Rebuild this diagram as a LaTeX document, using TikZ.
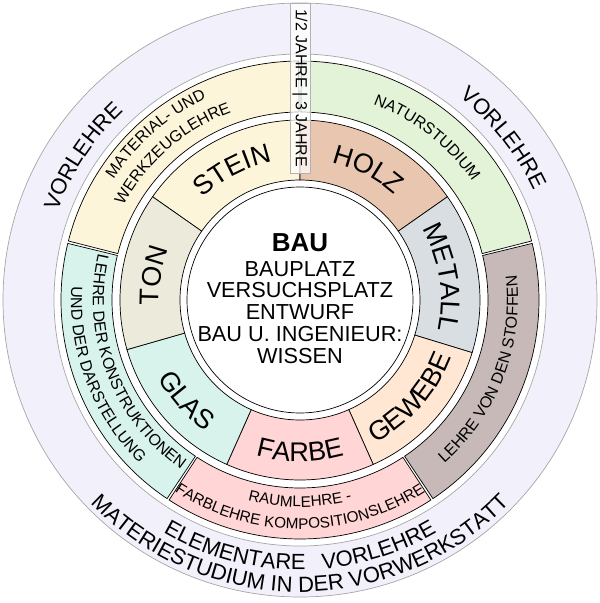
\documentclass[tikz,border=0pt]{standalone}
\usepackage{fontspec}
\setmainfont{Liberation Sans}
\usepackage{xcolor}
\usepackage{tikz}
\usetikzlibrary{decorations.text}

\definecolor{vorlehre}{HTML}{F2F0FA}
\definecolor{stein}{HTML}{FDF5DA}
\definecolor{natur}{HTML}{E3F3D8}
\definecolor{holz}{HTML}{E9C6B0}
\definecolor{metall}{HTML}{D9DEE2}
\definecolor{stoffe}{HTML}{C7B9B8}
\definecolor{gewebe}{HTML}{FFE7D4}
\definecolor{farbe}{HTML}{FFD5D5}
\definecolor{glas}{HTML}{D8F2EC}
\definecolor{ton}{HTML}{ECEADA}

\newcommand{\matfont}{\fontsize{27}{27}\selectfont}
\newcommand{\lehrefont}{\fontsize{16}{16}\selectfont}
\newcommand{\raumfont}{\fontsize{15.3}{15.3}\selectfont}
\newcommand{\vorfont}{\fontsize{22}{22}\selectfont}

\begin{document}
\begin{tikzpicture}[
    x=1pt, y=1pt,
    seg/.style={draw=black, line width=0.7pt},
    ring/.style={draw=black!35, line width=0.7pt},
    strip/.style={draw=black!30, fill=white, fill opacity=0.7, text opacity=1, minimum width=170pt, minimum height=20pt, inner sep=0pt, font=\fontsize{16}{16}\selectfont},
    arctext/.style={decorate, decoration={text along path, text align=center, text={#1}}}
]
    \useasboundingbox (-300,-303) rectangle (300,300);

    \filldraw[ring, fill=vorlehre] (0,0) circle (297);
    \filldraw[ring, fill=white] (0,0) circle (246);

    \filldraw[seg, fill=stein] (165.7:188) arc[start angle=165.7, end angle=90.3, radius=188] -- (90.3:239) arc[start angle=90.3, end angle=165.7, radius=239] -- cycle;
    \filldraw[seg, fill=natur] (89.7:188) arc[start angle=89.7, end angle=14.3, radius=188] -- (14.3:239) arc[start angle=14.3, end angle=89.7, radius=239] -- cycle;
    \filldraw[seg, fill=stoffe] (13.7:188) arc[start angle=13.7, end angle=-56.2, radius=188] -- (-56.2:239) arc[start angle=-56.2, end angle=13.7, radius=239] -- cycle;
    \filldraw[seg, fill=farbe] (-56.8:188) arc[start angle=-56.8, end angle=-123.2, radius=188] -- (-123.2:239) arc[start angle=-123.2, end angle=-56.8, radius=239] -- cycle;
    \filldraw[seg, fill=glas] (-123.8:188) arc[start angle=-123.8, end angle=-193.7, radius=188] -- (-193.7:239) arc[start angle=-193.7, end angle=-123.8, radius=239] -- cycle;

    \filldraw[seg, fill=stein] (145:120) arc[start angle=145, end angle=90, radius=120] -- (90:180) arc[start angle=90, end angle=145, radius=180] -- cycle;
    \filldraw[seg, fill=holz] (90:120) arc[start angle=90, end angle=35, radius=120] -- (35:180) arc[start angle=35, end angle=90, radius=180] -- cycle;
    \filldraw[seg, fill=metall] (35:120) arc[start angle=35, end angle=-17, radius=120] -- (-17:180) arc[start angle=-17, end angle=35, radius=180] -- cycle;
    \filldraw[seg, fill=gewebe] (-17:120) arc[start angle=-17, end angle=-66, radius=120] -- (-66:180) arc[start angle=-66, end angle=-17, radius=180] -- cycle;
    \filldraw[seg, fill=farbe] (-66:120) arc[start angle=-66, end angle=-114, radius=120] -- (-114:180) arc[start angle=-114, end angle=-66, radius=180] -- cycle;
    \filldraw[seg, fill=glas] (-114:120) arc[start angle=-114, end angle=-164, radius=120] -- (-164:180) arc[start angle=-164, end angle=-114, radius=180] -- cycle;
    \filldraw[seg, fill=ton] (-164:120) arc[start angle=-164, end angle=-215, radius=120] -- (-215:180) arc[start angle=-215, end angle=-164, radius=180] -- cycle;

    \filldraw[seg, fill=white] (0,0) circle (113);
    \node[align=center, inner sep=0pt, font=\fontsize{21.7}{21.7}\selectfont] (bau) at (0,1.5)
        {{\bfseries\fontsize{26}{26}\selectfont BAU}\\[3pt]BAUPLATZ\\VERSUCHSPLATZ\\ENTWURF\\BAU U. INGENIEUR:\\WISSEN};

    \path[arctext={|\matfont|STEIN}] (145:141) arc[start angle=145, end angle=90, radius=141];
    \path[arctext={|\matfont|HOLZ}] (90:141) arc[start angle=90, end angle=35, radius=141];
    \path[arctext={|\matfont|METALL}] (35:141) arc[start angle=35, end angle=-17, radius=141];
    \path[arctext={|\matfont|TON}] (196:141) arc[start angle=196, end angle=145, radius=141];
    \path[arctext={|\matfont|GEWEBE}] (-66:162) arc[start angle=-66, end angle=-17, radius=162];
    \path[arctext={|\matfont|FARBE}] (-114:162) arc[start angle=-114, end angle=-66, radius=162];
    \path[arctext={|\matfont|GLAS}] (-163:162) arc[start angle=-163, end angle=-114, radius=162];

    \path[arctext={|\lehrefont|MATERIAL- UND}] (171:222) arc[start angle=171, end angle=91, radius=222];
    \path[arctext={|\lehrefont|WERKZEUGLEHRE}] (171:200) arc[start angle=171, end angle=91, radius=200];
    \path[arctext={|\lehrefont|NATURSTUDIUM}] (92:209) arc[start angle=92, end angle=12, radius=209];
    \path[arctext={|\lehrefont|LEHRE VON DEN STOFFEN}] (-61:218) arc[start angle=-61, end angle=19, radius=218];
    \path[arctext={|\raumfont|RAUMLEHRE -}] (-127:207) arc[start angle=-127, end angle=-53, radius=207];
    \path[arctext={|\raumfont|FARBLEHRE KOMPOSITIONSLEHRE}] (-127:229) arc[start angle=-127, end angle=-53, radius=229];
    \path[arctext={|\lehrefont|LEHRE DER KONSTRUKTIONEN}] (162:207) arc[start angle=162, end angle=240, radius=207];
    \path[arctext={|\lehrefont|UND DER DARSTELLUNG}] (162:229) arc[start angle=162, end angle=240, radius=229];

    \path[arctext={|\vorfont|VORLEHRE}] (176.5:258) arc[start angle=176.5, end angle=116.5, radius=258];
    \path[arctext={|\vorfont|VORLEHRE}] (68.5:258) arc[start angle=68.5, end angle=8.5, radius=258];
    \path[arctext={|\vorfont|ELEMENTARE{\hspace*{17pt}}VORLEHRE}] (215:270) arc[start angle=215, end angle=325, radius=270];
    \path[arctext={|\vorfont|MATERIESTUDIUM IN DER VORWERKSTATT}] (212:292) arc[start angle=212, end angle=328, radius=292];

    \node[strip, rotate=-90] (jahre) at (0,212) {1/2 JAHRE | 3 JAHRE};
\end{tikzpicture}
\end{document}
